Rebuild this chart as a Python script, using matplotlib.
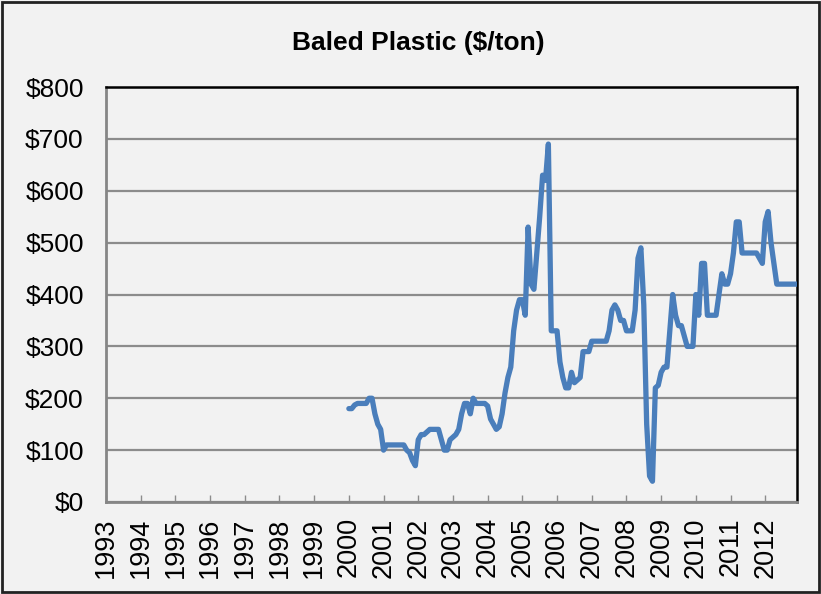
import numpy as np
import matplotlib.pyplot as plt
from matplotlib.patches import Rectangle

plt.rcParams['font.family'] = ['Liberation Sans', 'DejaVu Sans']

years = [str(y) for y in range(1993, 2013)]

# monthly prices, $/ton (no data before 2000)
p2000 = [180, 180, 187, 190, 190, 190, 190, 200, 200, 170, 150, 140]
p2001 = [100, 110, 110, 110, 110, 110, 110, 110, 100, 95, 80, 70]
p2002 = [120, 130, 130, 135, 140, 140, 140, 140, 120, 100, 100, 120]
p2003 = [125, 130, 140, 170, 190, 190, 170, 200, 190, 190, 190, 190]
p2004 = [185, 160, 150, 140, 145, 170, 210, 240, 260, 330, 370, 390]
p2005 = [390, 360, 530, 420, 410, 480, 550, 630, 620, 690, 330, 330]
p2006 = [330, 270, 240, 220, 220, 250, 230, 235, 240, 290, 290, 290]
p2007 = [310, 310, 310, 310, 310, 310, 330, 370, 380, 370, 350, 350]
p2008 = [330, 330, 330, 370, 470, 490, 380, 150, 50, 40, 220, 225]
p2009 = [250, 260, 260, 330, 400, 360, 340, 340, 320, 300, 300, 300]
p2010 = [400, 360, 460, 460, 360, 360, 360, 360, 400, 440, 420, 420]
p2011 = [440, 480, 540, 540, 480, 480, 480, 480, 480, 480, 470, 460]
p2012 = [540, 560, 500, 460, 420, 420, 420, 420, 420, 420, 420, 420]

empty = [np.nan] * (12 * 7)
prices = np.array(empty + p2000 + p2001 + p2002 + p2003 + p2004 + p2005 + p2006
                  + p2007 + p2008 + p2009 + p2010 + p2011 + p2012, dtype=float)
months = np.arange(len(prices))

bg = '#F2F2F2'
fig = plt.figure(figsize=(8.21, 5.94), dpi=100, facecolor=bg)
ax = fig.add_axes([0.1291, 0.1549, 0.8417, 0.6986], facecolor=bg)

ax.plot(months, prices, color='#4A7EBB', lw=3.8, solid_joinstyle='round',
        solid_capstyle='round', zorder=3)

ax.set_xlim(0, len(prices) - 1)
ax.set_ylim(0, 800)
ax.set_yticks(np.arange(0, 801, 100))
ax.set_yticklabels([f'${v}' for v in range(0, 801, 100)], fontsize=19)
ax.set_xticks(months[::12])
ax.set_xticklabels(years, rotation=90, fontsize=19.5, va='top', ha='center')

ax.grid(axis='y', color='#8C8C8C', lw=1.6, zorder=1)
ax.tick_params(axis='y', length=0, pad=16)
ax.tick_params(axis='x', direction='in', length=5, width=1, color='#8C8C8C', pad=11)

for s in ['left', 'bottom']:
    ax.spines[s].set_color('#868686')
    ax.spines[s].set_linewidth(2)
for s in ['top', 'right']:
    ax.spines[s].set_color('black')
    ax.spines[s].set_linewidth(1.8)

fig.text(0.509, 0.928, 'Baled Plastic ($/ton)', ha='center', va='center',
         fontsize=19, fontweight='bold')

fig.patches.append(Rectangle((0.002, 0.003), 0.996, 0.994, transform=fig.transFigure,
                             fill=False, edgecolor='#222222', lw=2))

plt.savefig('out.png', dpi=100, facecolor=bg)
